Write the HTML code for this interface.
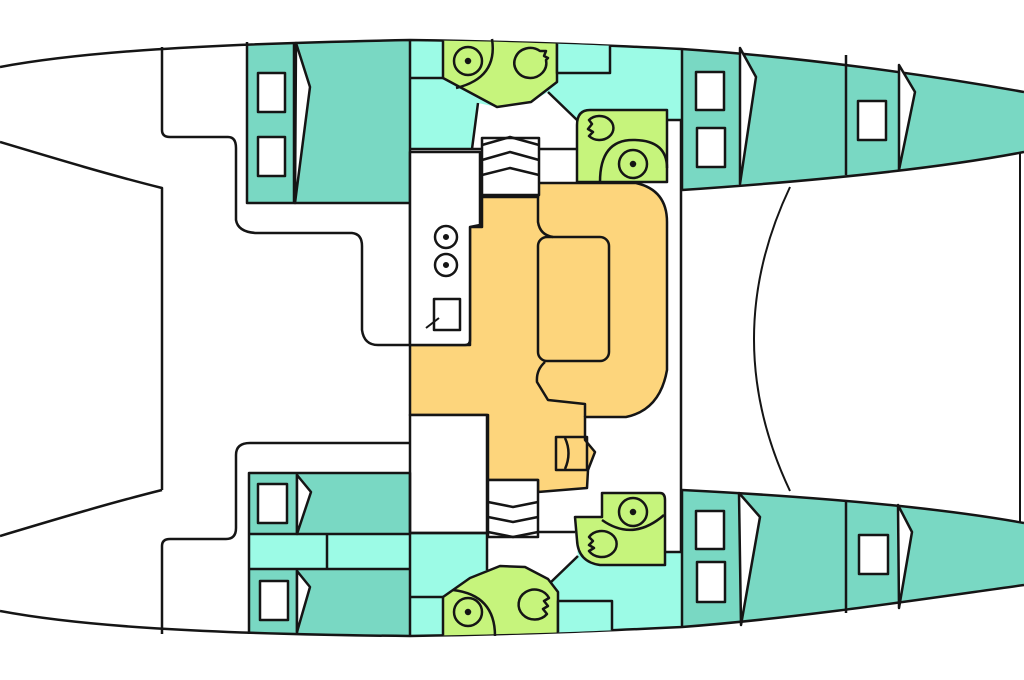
<!DOCTYPE html>
<html><head><meta charset="utf-8"><style>html,body{margin:0;padding:0;background:#fff;width:1024px;height:680px;overflow:hidden}</style></head>
<body>
<svg width="1024" height="680" viewBox="0 0 1024 680" xmlns="http://www.w3.org/2000/svg">
<defs>
<clipPath id="boat"><path d="M0,67 C80,52 200,44 410,40 C540,42 620,46 682,49 C800,57 930,75 1024,92 L1024,585 C930,598 800,618 682,627 C620,630 540,634 410,636 C200,634 80,626 0,611 Z"/></clipPath>
</defs>
<g fill="none" stroke="#151515" stroke-width="2.5" stroke-linejoin="round">
<g clip-path="url(#boat)" stroke="none">
  <path d="M682,0 L1024,0 L1024,152 C930,170 800,182 682,190 Z" fill="#79d8c3"/>
  <path d="M682,490 C800,496 930,506 1024,523 L1024,680 L682,680 Z" fill="#79d8c3"/>
  <rect x="247" y="0" width="163" height="203" fill="#79d8c3"/>
  <rect x="410" y="0" width="271" height="150" fill="#9cfbe6"/>
  <rect x="667" y="120" width="14" height="70" fill="#fff"/>
  <path d="M478,103 L497,107 L531,102 L548,92 L577,120 L577,150 L472,150 Z" fill="#fff"/>
  <rect x="249" y="473" width="161" height="61" fill="#79d8c3"/>
  <rect x="249" y="534" width="161" height="35" fill="#9cfbe6"/>
  <rect x="249" y="569" width="161" height="111" fill="#79d8c3"/>
  <rect x="410" y="533" width="272" height="147" fill="#9cfbe6"/>
  <rect x="538" y="400" width="144" height="151" fill="#fff"/>
  <path d="M487,533 L575,533 L578,556 L550,583 L525,568 L500,566 L487,570 Z" fill="#fff"/>
</g>
<path d="M0,67 C80,52 200,44 410,40 C540,42 620,46 682,49 C800,57 930,75 1024,92"/>
<path d="M0,611 C80,626 200,634 410,636 C540,634 620,630 682,627 C800,618 930,598 1024,585"/>
<path d="M682,190 C800,182 930,170 1024,152"/>
<path d="M682,490 C800,496 930,506 1024,523"/>
<path d="M0,142 C60,160 110,175 162,188 L162,490"/>
<path d="M0,536 C60,518 110,503 162,490"/>
<path d="M1020,152 L1020,523" stroke-width="2"/>
<path d="M790,187 Q718,339 790,491" stroke-width="2"/>
<path d="M162,47 L162,130 Q162,137 170,137 L228,137 Q236,137 236,148 L236,220 Q238,232 256,233 L352,233 Q362,234 362,246 L362,330 Q364,345 378,345 L410,345"/>
<path d="M162,634 L162,546 Q162,539 170,539 L226,539 Q236,539 236,528 L236,455 Q236,443 250,443 L410,443"/>
<path d="M247,42 L247,203 L410,203 M294,42 L294,203 M410,40 L410,345"/>
<path d="M296,43 L310,87 L295,203 Z" fill="#fff"/>
<rect x="258" y="73" width="27" height="39" fill="#fff"/>
<rect x="258" y="137" width="27" height="39" fill="#fff"/>
<path d="M410,78 L443,78 M410,149 L482,149 M539,149 L577,149 M472,149 L478,103 M548,92 L577,120 M667,120 L681,120 M681,120 L681,552"/>
<g clip-path="url(#boat)"><path d="M443,30 L443,78 L497,107 L531,102 L557,82 L557,30" fill="#c6f47c"/>
<rect x="557" y="30" width="53" height="43" fill="#9cfbe6"/></g>
<circle cx="468" cy="61" r="14"/><circle cx="468" cy="61" r="2" fill="#111"/>
<path d="M492,39 Q498,78 456,88"/>
<path d="M546,60 A16,15 0 1 1 540,51 L546,51 L544,56 L548,58 Z"/>
<path d="M590,110 L667,110 L667,182 L577,182 L577,125 Q577,110 590,110 Z" fill="#c6f47c"/>
<circle cx="633" cy="164" r="14"/><circle cx="633" cy="164" r="2" fill="#111"/>
<path d="M600,182 Q600,140 633,140 Q667,140 667,168"/>
<path d="M589,120 A14,12 0 1 1 589,136 L593,132 L588,129 L592,124 Z"/>
<path d="M482,197 L538,197 L538,183 L636,183 Q667,190 667,222 L667,370 Q660,410 626,417 L585,417 L585,440 L595,452 L588,470 L587,488 L538,492 L538,480 L488,480 L488,415 L410,415 L410,345 L470,345 L470,227 L482,227 Z" fill="#fdd57c"/>
<path d="M538,183 L538,222 Q540,235 553,237"/>
<rect x="538" y="237" width="71" height="124" rx="9"/>
<path d="M545,362 Q536,370 537,382 L548,400 L585,404 L585,417"/>
<rect x="556" y="437" width="31" height="33"/>
<path d="M565,438 Q572,453 565,469"/>
<path d="M410,152 L480,152 L480,225 L470,227 L470,340 Q470,345 465,345 L410,345 Z" fill="#fff"/>
<circle cx="446" cy="237" r="11"/><circle cx="446" cy="237" r="1.8" fill="#111"/>
<circle cx="446" cy="265" r="11"/><circle cx="446" cy="265" r="1.8" fill="#111"/>
<rect x="434" y="299" width="26" height="31"/>
<path d="M426,328 L439,318" stroke-width="2"/>
<rect x="482" y="138" width="57" height="57" fill="#fff"/>
<path d="M482,145 L510,137 L539,145 M482,160 L510,152 L539,160 M482,175 L510,168 L539,175"/>
<rect x="410" y="415" width="77" height="118" fill="#fff"/>
<rect x="488" y="480" width="50" height="57" fill="#fff"/>
<path d="M488,502 L513,507 L538,502 M488,517 L513,522 L538,517 M488,532 L513,537 L538,532 M538,532 L575,532"/>
<path d="M249,634 L249,473 L410,473 L410,636 M249,534 L410,534 M249,569 L410,569 M297,473 L297,534 M297,569 L297,634 M327,534 L327,569 M487,533 L487,570 M410,533 L487,533 M410,597 L443,597"/>
<path d="M297,475 L311,492 L297,534 Z" fill="#fff"/>
<path d="M297,571 L310,587 L297,632 Z" fill="#fff"/>
<rect x="258" y="484" width="29" height="39" fill="#fff"/>
<rect x="260" y="581" width="28" height="39" fill="#fff"/>
<g clip-path="url(#boat)"><path d="M443,645 L443,597 L470,578 L500,566 L525,567 L548,579 L558,592 L558,645" fill="#c6f47c"/>
<rect x="558" y="601" width="54" height="45" fill="#9cfbe6"/></g>
<circle cx="468" cy="612" r="14"/><circle cx="468" cy="612" r="2" fill="#111"/>
<path d="M453,590 Q495,595 495,636"/>
<path d="M547,614 A16,15 0 1 1 549,598 L544,601 L548,606 L543,609 Z"/>
<path d="M550,583 L578,556"/>
<path d="M602,493 L660,493 Q665,493 665,500 L665,565 L600,565 Q578,562 577,540 L575,517 L602,517 Z" fill="#c6f47c"/>
<circle cx="633" cy="512" r="14"/><circle cx="633" cy="512" r="2" fill="#111"/>
<path d="M602,520 Q633,542 664,515"/>
<path d="M589,537 A15,13 0 1 1 589,551 L594,548 L589,545 L593,541 Z"/>
<path d="M665,552 L681,552"/>
<path d="M682,49 L682,190 M846,55 L846,175"/>
<path d="M740,48 L756,77 L740,184 Z" fill="#fff"/>
<path d="M899,65 L915,92 L899,170 Z" fill="#fff"/>
<rect x="696" y="72" width="28" height="38" fill="#fff"/>
<rect x="697" y="128" width="28" height="39" fill="#fff"/>
<rect x="858" y="101" width="28" height="39" fill="#fff"/>
<path d="M682,490 L682,627 M846,500 L846,613"/>
<path d="M739,493 L760,517 L741,625 Z" fill="#fff"/>
<path d="M898,505 L912,532 L899,608 Z" fill="#fff"/>
<rect x="696" y="511" width="28" height="38" fill="#fff"/>
<rect x="697" y="562" width="28" height="40" fill="#fff"/>
<rect x="859" y="535" width="29" height="39" fill="#fff"/>
</g>
</svg>
</body></html>
